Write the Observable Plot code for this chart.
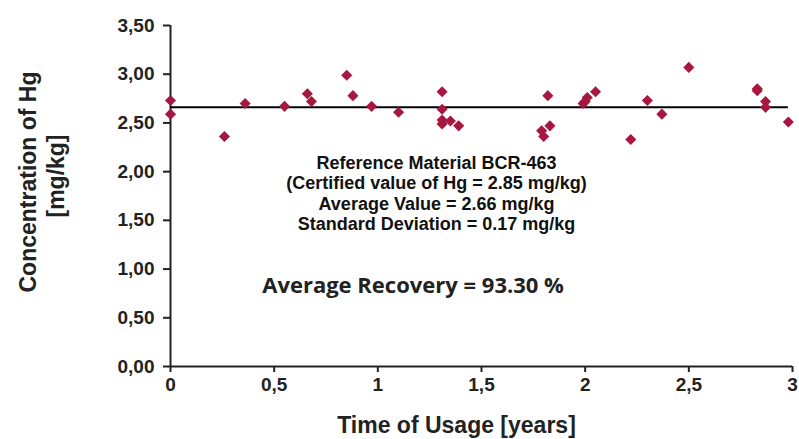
<!DOCTYPE html>
<html>
<head>
<meta charset="utf-8">
<script src="https://cdn.jsdelivr.net/npm/d3@7"></script>
<script src="https://cdn.jsdelivr.net/npm/@observablehq/plot@0.6"></script>
<style>
  html, body { margin: 0; padding: 0; background: #fff; }
  #chart { width: 799px; height: 439px; }
</style>
</head>
<body>
<div id="chart"></div>
<script>
// Time of usage (years)
const years = [0.00, 0.00, 0.26, 0.36, 0.55, 0.66, 0.68, 0.85, 0.88, 0.97,
  1.10, 1.31, 1.31, 1.31, 1.31, 1.35, 1.39, 1.79, 1.80, 1.82, 1.83,
  1.99, 2.00, 2.01, 2.05, 2.22, 2.30, 2.37, 2.50, 2.83, 2.83, 2.87, 2.87, 2.98];
// Concentration of Hg (mg/kg)
const concentration = [2.73, 2.59, 2.36, 2.70, 2.67, 2.80, 2.72, 2.99, 2.78, 2.67,
  2.61, 2.82, 2.64, 2.53, 2.49, 2.52, 2.47, 2.42, 2.36, 2.78, 2.47,
  2.70, 2.72, 2.76, 2.82, 2.33, 2.73, 2.59, 3.07, 2.85, 2.83, 2.72, 2.66, 2.51];
const averageValue = 2.66;
const xTicks = [0, 0.5, 1, 1.5, 2, 2.5, 3];
const yTicks = [0, 0.5, 1, 1.5, 2, 2.5, 3, 3.5];
const infoLines = [
  "Reference Material BCR-463",
  "(Certified value of Hg = 2.85 mg/kg)",
  "Average Value = 2.66 mg/kg",
  "Standard Deviation = 0.17 mg/kg"
];
const recoveryText = "Average Recovery = 93.30 %";
const xLabel = "Time of Usage [years]";
const yLabelLines = ["Concentration of Hg", "[mg/kg]"];

const points = years.map((t, i) => ({t, c: concentration[i]}));
const comma = d => String(d).replace(".", ",");
const comma2 = d => d3.format(".2f")(d).replace(".", ",");
const font = "'Liberation Sans', Arial, sans-serif";

const chart = Plot.plot({
  width: 799,
  height: 439,
  marginLeft: 170,
  marginRight: 7,
  marginTop: 25,
  marginBottom: 73,
  style: {fontFamily: font, background: "#fff", color: "#222"},
  x: {domain: [0, 3], ticks: xTicks},
  y: {domain: [0, 3.5], ticks: yTicks},
  marks: [
    Plot.axisY({ticks: yTicks, tickFormat: comma2, tickSize: 7, tickPadding: 9,
      fontSize: 19, fontWeight: "bold", label: null, stroke: "#222", strokeWidth: 2, fill: "#222"}),
    Plot.axisX({ticks: xTicks, tickFormat: comma, tickSize: 6, tickPadding: 5,
      fontSize: 19, fontWeight: "bold", label: null, stroke: "#222", strokeWidth: 2, fill: "#222"}),
    Plot.ruleX([0], {stroke: "#222", strokeWidth: 2}),
    Plot.ruleY([0], {stroke: "#222", strokeWidth: 2}),
    Plot.ruleY([averageValue], {x1: 0, x2: 2.98, stroke: "#000", strokeWidth: 2}),
    Plot.dot(points, {x: "t", y: "c", symbol: "diamond2", r: 5, fill: "#A8173F", stroke: "none"}),
    Plot.text([infoLines.join("\n")], {x: 1.283, y: 1.78, fontSize: 18, fontWeight: "bold",
      lineHeight: 1.13, fill: "#111", fontFamily: font}),
    Plot.text([recoveryText], {x: 1.17, y: 0.83, fontSize: 22, fontWeight: 700,
      fill: "#222", fontFamily: "'Open Sans', sans-serif"}),
    Plot.text([xLabel], {frameAnchor: "bottom", lineAnchor: "middle", dx: -25, dy: 59, fontSize: 23,
      fontWeight: "bold", fill: "#222"}),
    Plot.text([yLabelLines[0]], {frameAnchor: "left", textAnchor: "middle", dx: -142, dy: -14, rotate: -90,
      fontSize: 23, fontWeight: "bold", fill: "#222"}),
    Plot.text([yLabelLines[1]], {frameAnchor: "left", textAnchor: "middle", dx: -114, dy: -20, rotate: -90,
      fontSize: 23, fontWeight: "bold", fill: "#222"})
  ]
});
document.getElementById("chart").appendChild(chart);
</script>
</body>
</html>
